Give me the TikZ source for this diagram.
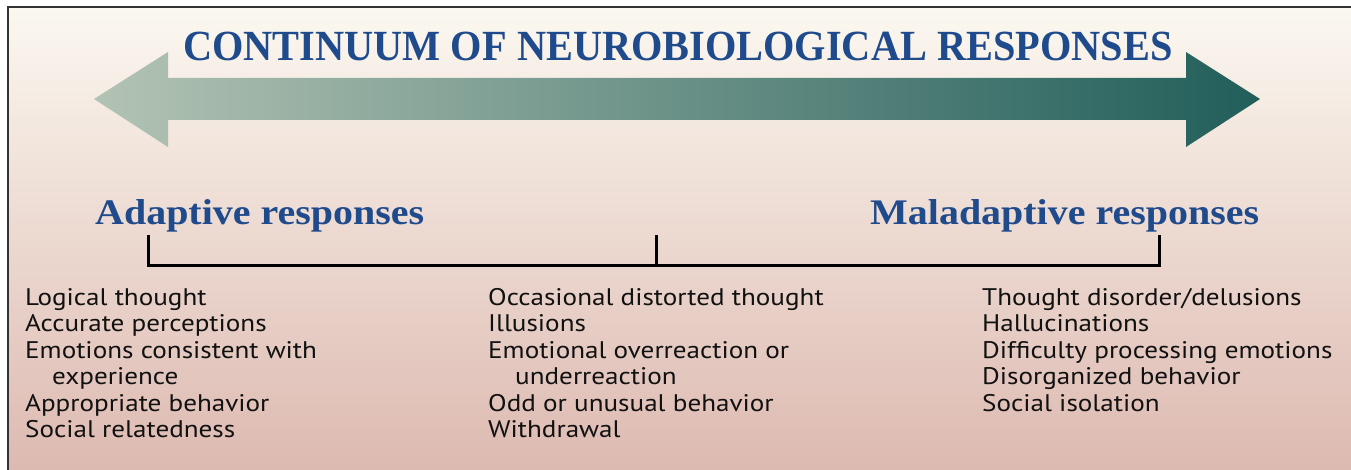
\documentclass[tikz,border=0pt]{standalone}
\usepackage{fontspec}
\setmainfont[FakeStretch=1.13]{PT Sans}
\newfontfamily\headfont[FakeStretch=0.938]{Liberation Serif}
\newfontfamily\sidefont[FakeStretch=1.11]{Liberation Serif}
\definecolor{bgtop}{HTML}{FBF8F0}
\definecolor{bgmid}{HTML}{F0E3DA}
\definecolor{bgbot}{HTML}{DCB8AF}
\definecolor{framegray}{HTML}{333333}
\definecolor{arrowlight}{HTML}{B3C3B4}
\definecolor{arrowmid}{HTML}{6C9587}
\definecolor{arrowdark}{HTML}{215E5A}
\definecolor{headblue}{HTML}{1F4A8C}
\definecolor{bodytext}{HTML}{111111}
\tikzset{
  title/.style={anchor=base west, inner sep=0pt, text=headblue, font=\headfont\bfseries\fontsize{43}{43}\selectfont},
  side/.style={anchor=base west, inner sep=0pt, text=headblue, font=\sidefont\bfseries\fontsize{36}{36}\selectfont},
  % base anchor of a multi-line node sits on its last line
  itemlist/.style={anchor=base west, inner sep=0pt, text=bodytext, align=left,
    font=\fontsize{24}{26.5}\selectfont},
  bracket/.style={line width=3pt, draw=black, line cap=rect, line join=miter},
}
\begin{document}
\begin{tikzpicture}[x=1pt,y=-1pt]
\useasboundingbox (0,0) rectangle (1351,470);
\fill[white] (0,0) rectangle (1351,470);
% framed panel with a vertical colour wash
\shade[top color=bgtop, middle color=bgmid, bottom color=bgbot] (8,7) rectangle (1362,482);
\draw[line width=1.6pt, draw=framegray] (1362,7) -- (8,7) -- (8,482);

% double-headed continuum arrow
\shade[left color=arrowlight, middle color=arrowmid, right color=arrowdark]
  (94,99) -- (168,52) -- (168,78) -- (1186,78) -- (1186,52) -- (1260,99)
  -- (1186,147) -- (1186,120) -- (168,120) -- (168,147) -- cycle;

\node[title] (head) at (183,61) {CONTINUUM OF NEUROBIOLOGICAL RESPONSES};

\node[side] (adapt) at (95,225) {Adaptive responses};
\node[side] (maladapt) at (870,225) {Maladaptive responses};

% bracket under the two poles
\coordinate (bl) at (148,237);
\coordinate (bm) at (656,237);
\coordinate (br) at (1159,237);
\coordinate (cl) at (148,266);
\coordinate (cm) at (656,266);
\coordinate (cr) at (1159,266);
\draw[bracket] (bl) -- (cl) -- (cr) -- (br);
\draw[bracket] (bm) -- (cm);

% three columns of responses
\node[itemlist] (left) at (25,437.5) {Logical thought\\
Accurate perceptions\\
Emotions consistent with\\
\hspace*{27pt}experience\\
Appropriate behavior\\
Social relatedness};
\node[itemlist] (mid) at (488,437.5) {Occasional distorted thought\\
Illusions\\
Emotional overreaction or\\
\hspace*{27pt}underreaction\\
Odd or unusual behavior\\
Withdrawal};
\node[itemlist] (right) at (982,411) {Thought disorder/delusions\\
Hallucinations\\
Difficulty processing emotions\\
Disorganized behavior\\
Social isolation};
\end{tikzpicture}
\end{document}
